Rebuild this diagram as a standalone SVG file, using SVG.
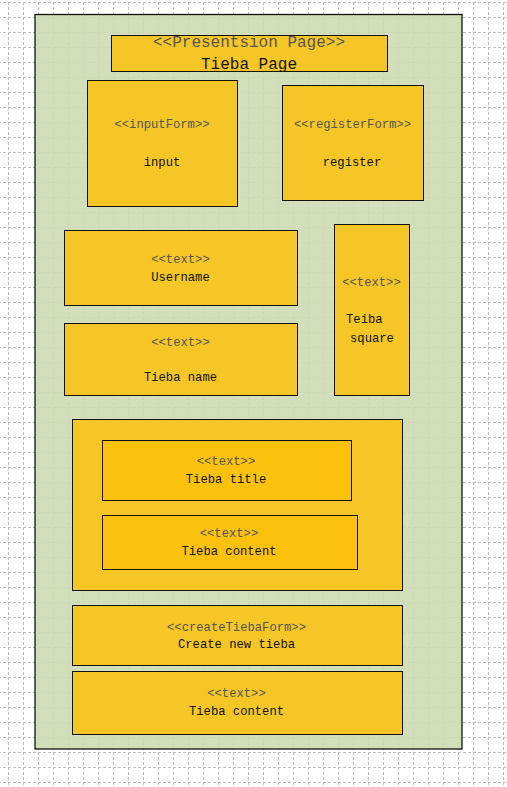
<svg xmlns="http://www.w3.org/2000/svg" width="507" height="787" viewBox="0 0 507 787">
<style>
.box{fill:#f5c625;stroke:#111;stroke-width:1}
.inner{fill:#fcc20b;stroke:#111;stroke-width:1}
.st{font-family:"Liberation Mono","DejaVu Sans Mono",monospace;font-size:12.2px;fill:#555;text-anchor:middle}
.nm{font-family:"Liberation Mono","DejaVu Sans Mono",monospace;font-size:12.2px;fill:#111;text-anchor:middle}
.gl{stroke:#bdbdbd;stroke-width:1;stroke-dasharray:3 2}
</style>
<defs>
<pattern id="grid" patternUnits="userSpaceOnUse" x="8" y="2" width="15" height="15">
<line class="gl" x1="0.5" y1="0" x2="0.5" y2="15"/>
<line class="gl" x1="0" y1="0.5" x2="15" y2="0.5"/>
</pattern>
</defs>
<rect width="507" height="787" fill="#fff"/>
<rect width="507" height="787" fill="url(#grid)"/>
<g id="page">
<rect x="35" y="14.5" width="427" height="734.5" fill="#cddcb3" fill-opacity="0.9" stroke="#111" stroke-width="1.3"/>
</g>
<g id="title">
<rect class="box" x="111.5" y="35.5" width="276" height="36"/>
<text class="st" x="249" y="47" style="font-size:16px">&lt;&lt;Presentsion Page&gt;&gt;</text>
<text class="nm" x="249" y="69" style="font-size:16px">Tieba Page</text>
</g>
<g id="inputForm">
<rect class="box" x="87.5" y="80.5" width="150" height="126"/>
<text class="st" x="162" y="128">&lt;&lt;inputForm&gt;&gt;</text>
<text class="nm" x="162" y="166">input</text>
</g>
<g id="registerForm">
<rect class="box" x="282.5" y="85.5" width="141" height="115"/>
<text class="st" x="352.5" y="128">&lt;&lt;registerForm&gt;&gt;</text>
<text class="nm" x="352" y="166">register</text>
</g>
<g id="username">
<rect class="box" x="64.5" y="230.5" width="233" height="75"/>
<text class="st" x="180.5" y="263">&lt;&lt;text&gt;&gt;</text>
<text class="nm" x="180.5" y="281">Username</text>
</g>
<g id="tiebaName">
<rect class="box" x="64.5" y="323.5" width="233" height="72"/>
<text class="st" x="180.5" y="346">&lt;&lt;text&gt;&gt;</text>
<text class="nm" x="180.5" y="381">Tieba name</text>
</g>
<g id="tiebaSquare">
<rect class="box" x="334.5" y="224.5" width="75" height="171"/>
<text class="st" x="371.5" y="286">&lt;&lt;text&gt;&gt;</text>
<text class="nm" x="346" y="323" style="text-anchor:start">Teiba</text>
<text class="nm" x="350" y="342" style="text-anchor:start">square</text>
</g>
<g id="tiebaGroup">
<rect class="box" x="72.5" y="419.5" width="330" height="171"/>
</g>
<g id="tiebaTitle">
<rect class="inner" x="102.5" y="440.5" width="249" height="60"/>
<text class="st" x="226" y="465">&lt;&lt;text&gt;&gt;</text>
<text class="nm" x="226" y="483">Tieba title</text>
</g>
<g id="tiebaContent">
<rect class="inner" x="102.5" y="515.5" width="255" height="54"/>
<text class="st" x="229" y="537">&lt;&lt;text&gt;&gt;</text>
<text class="nm" x="229" y="555">Tieba content</text>
</g>
<g id="createTiebaForm">
<rect class="box" x="72.5" y="605.5" width="330" height="60"/>
<text class="st" x="236.5" y="631">&lt;&lt;createTiebaForm&gt;&gt;</text>
<text class="nm" x="236.5" y="648">Create new tieba</text>
</g>
<g id="tiebaContent2">
<rect class="box" x="72.5" y="671.5" width="330" height="63"/>
<text class="st" x="236.5" y="697">&lt;&lt;text&gt;&gt;</text>
<text class="nm" x="236.5" y="715">Tieba content</text>
</g>
<g id="connectors"></g>
</svg>
